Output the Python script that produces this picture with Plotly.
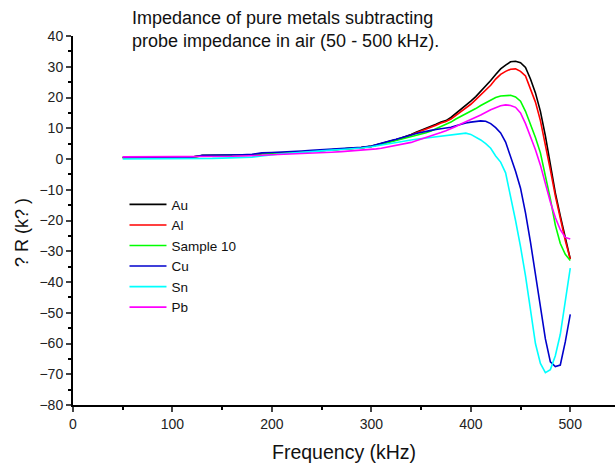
import plotly.graph_objects as go

freq = [50, 60, 70, 80, 90, 100, 110, 120, 130, 140, 150, 160, 170, 180, 190, 200,
        210, 220, 230, 240, 250, 260, 270, 280, 290, 300,
        305, 310, 315, 320, 325, 330, 335, 340, 345, 350, 355, 360, 365, 370, 375,
        380, 385, 390, 395, 400, 405, 410, 415, 420, 425, 430, 435, 440, 445, 450,
        455, 460, 465, 470, 475, 480, 485, 490, 495, 500]

low_common = [0.5, 0.5, 0.5, 0.5, 0.5, 0.5, 0.5, 0.6, 1.1, 1.1, 1.1, 1.2, 1.2, 1.3, 1.8, 1.8,
              1.9, 2.0, 2.3, 2.5, 2.7, 3.0, 3.2, 3.4, 3.7, 4.1]

au = low_common + [4.5, 5.0, 5.4, 5.8, 6.3, 6.8, 7.3, 8.0, 8.7, 9.3, 10.0, 10.7, 11.3, 12.0, 12.5,
                   13.5, 14.8, 16.0, 17.3, 18.8, 20.3, 22.0, 23.8, 25.5, 27.5, 29.3, 30.5, 31.6, 31.8, 31.3,
                   29.8, 26.0, 21.5, 15.5, 7.5, -2.0, -11.0, -18.5, -25.5, -32.5]

al = low_common + [4.5, 5.0, 5.4, 5.8, 6.2, 6.7, 7.2, 7.8, 8.4, 9.0, 9.7, 10.4, 11.0, 11.7, 12.2,
                   13.0, 14.2, 15.2, 16.5, 17.8, 19.3, 20.9, 22.5, 24.0, 26.0, 27.5, 28.5, 29.2, 29.3, 28.5,
                   27.0, 23.0, 18.5, 12.5, 5.0, -3.5, -12.0, -19.5, -26.5, -32.5]

sample10 = low_common + [4.4, 4.8, 5.2, 5.6, 6.0, 6.4, 6.8, 7.2, 7.6, 8.0, 8.5, 9.1, 9.8, 10.5, 11.2,
                         12.0, 13.0, 13.8, 14.6, 15.4, 16.4, 17.4, 18.2, 19.2, 20.0, 20.5, 20.7, 20.7, 20.2, 18.8,
                         15.5, 11.5, 7.0, 2.0, -5.0, -13.0, -21.5, -27.5, -31.0, -33.0]

cu = [0.5, 0.5, 0.5, 0.5, 0.5, 0.5, 0.5, 0.6, 1.2, 1.2, 1.2, 1.3, 1.4, 1.5, 2.0, 2.1,
      2.2, 2.4, 2.6, 2.8, 3.0, 3.2, 3.3, 3.5, 3.8, 4.2] + \
     [4.7, 5.2, 5.6, 6.0, 6.4, 6.8, 7.3, 7.8, 8.3, 8.7, 9.0, 9.3, 9.6, 9.8, 10.0,
      10.3, 10.8, 11.3, 11.7, 12.0, 12.3, 12.4, 12.3, 11.5, 10.2, 8.5, 5.5, 1.0, -4.0, -9.5,
      -17.5, -27.0, -37.0, -47.5, -58.5, -66.0, -67.5, -67.0, -59.5, -50.5]

sn = [0.0, 0.0, 0.0, 0.0, 0.0, 0.0, 0.0, 0.0, 0.1, 0.2, 0.3, 0.4, 0.5, 0.6, 1.0, 1.4,
      1.7, 1.9, 2.2, 2.4, 2.6, 2.9, 3.1, 3.3, 3.6, 4.0] + \
     [4.3, 4.6, 4.9, 5.2, 5.5, 5.8, 6.0, 6.2, 6.4, 6.6, 6.8, 7.0, 7.2, 7.4, 7.6,
      7.9, 8.2, 8.4, 8.4, 8.0, 7.2, 6.2, 5.0, 3.5, 1.0, -1.0, -4.5, -12.0, -20.0, -28.5,
      -38.0, -49.0, -60.0, -66.5, -69.5, -68.5, -64.0, -57.0, -47.0, -35.5]

pb = [0.7, 0.7, 0.7, 0.7, 0.7, 0.7, 0.7, 0.7, 0.8, 0.8, 0.9, 0.9, 1.0, 1.0, 1.2, 1.4,
      1.5, 1.6, 1.7, 1.8, 2.0, 2.2, 2.4, 2.6, 2.8, 3.0] + \
     [3.3, 3.5, 3.8, 4.0, 4.3, 4.6, 4.9, 5.4, 5.9, 6.4, 6.9, 7.4, 8.0, 8.6, 9.2,
      9.8, 10.6, 11.4, 12.2, 12.9, 13.6, 14.3, 15.2, 16.0, 16.7, 17.3, 17.6, 17.4, 16.8, 15.0,
      11.5, 7.5, 3.0, -2.0, -8.0, -14.0, -19.0, -23.0, -25.5, -26.0]

names = ["Au", "Al", "Sample 10", "Cu", "Sn", "Pb"]
series = [au, al, sample10, cu, sn, pb]
colors = ["#000000", "#ff0000", "#00ff00", "#0000cc", "#00ffff", "#ff00ff"]

x_ticks = [0, 100, 200, 300, 400, 500]
y_ticks = [40, 30, 20, 10, 0, -10, -20, -30, -40, -50, -60, -70, -80]

FONT = "Arial, Liberation Sans, sans-serif"

fig = go.Figure()
for name, ys, c in zip(names, series, colors):
    fig.add_trace(go.Scatter(x=freq, y=ys, mode="lines", name=name,
                             line=dict(color=c, width=1.6)))

fig.update_layout(
    width=615, height=467,
    margin=dict(l=73, r=0, t=36, b=62),
    paper_bgcolor="white", plot_bgcolor="white",
    font=dict(family=FONT, size=14, color="#222222"),
    showlegend=True,
    legend=dict(x=0.095, y=0.585, xanchor="left", yanchor="top",
                bgcolor="rgba(0,0,0,0)", font=dict(size=13.5, color="#111111"),
                tracegroupgap=0, itemwidth=37),
    annotations=[
        dict(text="Impedance of pure metals subtracting<br>probe impedance in air (50 - 500 kHz).",
             xref="paper", yref="paper", x=0.105, y=1.08, xanchor="left", yanchor="top",
             align="left", showarrow=False, font=dict(size=18, color="#111111")),
        dict(text="? R (k? )", xref="paper", yref="paper", x=-0.094, y=0.466,
             xanchor="center", yanchor="middle", textangle=-90, showarrow=False,
             font=dict(size=18, color="#111111")),
        dict(text="Frequency (kHz)", xref="paper", yref="paper", x=0.5, y=-0.128,
             xanchor="center", yanchor="middle", showarrow=False,
             font=dict(size=19.5, color="#111111")),
    ],
)

fig.update_xaxes(range=[0, 545], tickvals=x_ticks, ticks="outside", ticklen=5, tickwidth=1.5,
                 showline=True, linecolor="black", linewidth=2, showgrid=False, zeroline=False,
                 tickfont=dict(size=14, color="#222222"),
                 minor=dict(tickvals=[50, 150, 250, 350, 450], ticks="outside", ticklen=3, tickwidth=1.5,
                            tickcolor="black", showgrid=False))

fig.update_yaxes(range=[-80, 40], tickvals=y_ticks, ticks="outside", ticklen=5, tickwidth=1.5,
                 showline=True, linecolor="black", linewidth=2, showgrid=False, zeroline=False,
                 tickfont=dict(size=14, color="#222222"),
                 minor=dict(tickvals=[35, 25, 15, 5, -5, -15, -25, -35, -45, -55, -65, -75],
                            ticks="outside", ticklen=3, tickwidth=1.5, tickcolor="black", showgrid=False))

fig.write_html("out.html")
